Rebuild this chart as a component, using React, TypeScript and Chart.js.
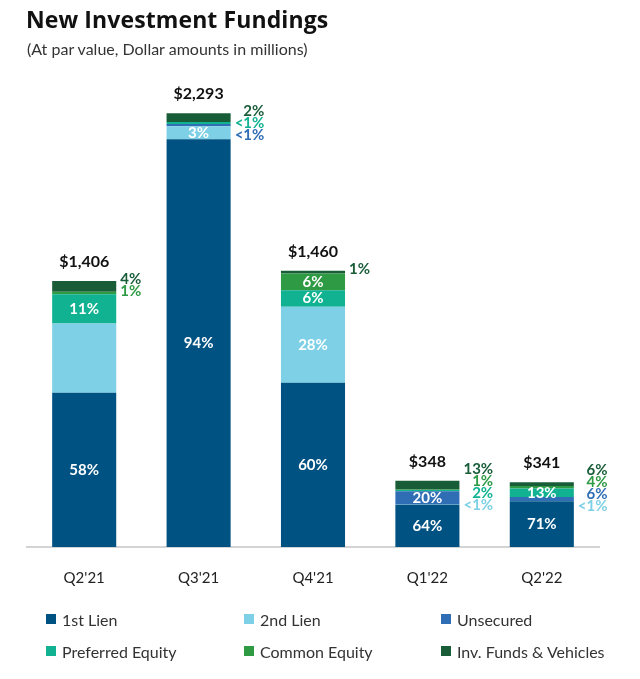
import React, { useEffect, useRef } from "react";
import { Chart, registerables } from "chart.js";

Chart.register(...registerables);

const FONT = "Lato, 'Open Sans', sans-serif";

const categories = ["Q2'21", "Q3'21", "Q4'21", "Q1'22", "Q2'22"];
const totals = [1406, 2293, 1460, 348, 341];
const totalLabels = ["$1,406", "$2,293", "$1,460", "$348", "$341"];

const seriesNames = [
  "1st Lien",
  "2nd Lien",
  "Unsecured",
  "Preferred Equity",
  "Common Equity",
  "Inv. Funds & Vehicles",
];
const seriesColors = ["#005282", "#7ed0e6", "#2f6db5", "#10b291", "#2e9a44", "#185c38"];

// share of each quarter's total, in percent
const firstLienPct = [58, 94, 59.5, 64, 71];
const secondLienPct = [26, 3, 27.5, 0.5, 0.5];
const unsecuredPct = [0, 0.5, 0, 20, 6];
const preferredPct = [11, 0.5, 6, 2, 13];
const commonPct = [1, 0, 6, 1, 4];
const invFundsPct = [4, 2, 1, 13, 6];

// printed labels
const firstLienLabels = ["58%", "94%", "60%", "64%", "71%"];
const secondLienLabels = ["", "3%", "28%", "<1%", "<1%"];
const unsecuredLabels = ["", "<1%", "", "20%", "6%"];
const preferredLabels = ["11%", "<1%", "6%", "2%", "13%"];
const commonLabels = ["1%", "", "6%", "1%", "4%"];
const invFundsLabels = ["4%", "2%", "1%", "13%", "6%"];

// true where the label sits beside the bar instead of inside it
const firstLienOutside = [false, false, false, false, false];
const secondLienOutside = [false, false, false, true, true];
const unsecuredOutside = [false, true, false, false, true];
const preferredOutside = [false, true, false, true, false];
const commonOutside = [true, false, false, true, true];
const invFundsOutside = [true, true, true, true, true];

const seriesPct = [firstLienPct, secondLienPct, unsecuredPct, preferredPct, commonPct, invFundsPct];
const seriesLabels = [
  firstLienLabels,
  secondLienLabels,
  unsecuredLabels,
  preferredLabels,
  commonLabels,
  invFundsLabels,
];
const seriesOutside = [
  firstLienOutside,
  secondLienOutside,
  unsecuredOutside,
  preferredOutside,
  commonOutside,
  invFundsOutside,
];

const labelPlugin = {
  id: "segmentLabels",
  afterDatasetsDraw(chart: any) {
    const ctx = chart.ctx as CanvasRenderingContext2D;
    ctx.save();
    for (let i = 0; i < categories.length; i++) {
      const outside: { text: string; color: string }[] = [];
      let top = Infinity;
      let right = 0;
      let cx = 0;
      chart.data.datasets.forEach((_ds: any, d: number) => {
        const bar = chart.getDatasetMeta(d).data[i];
        const p = bar.getProps(["x", "y", "base", "width"], true);
        top = Math.min(top, p.y);
        right = p.x + p.width / 2;
        cx = p.x;
        const text = seriesLabels[d][i];
        if (!text) return;
        if (seriesOutside[d][i]) {
          outside.unshift({ text, color: seriesColors[d] });
        } else {
          ctx.font = `bold 15px ${FONT}`;
          ctx.fillStyle = "#ffffff";
          ctx.textAlign = "center";
          ctx.textBaseline = "middle";
          ctx.fillText(text, p.x, (p.y + p.base) / 2);
        }
      });
      ctx.font = `bold 16px ${FONT}`;
      ctx.fillStyle = "#111111";
      ctx.textAlign = "center";
      ctx.textBaseline = "middle";
      ctx.fillText(totalLabels[i], cx, top - 19);

      if (outside.length) {
        ctx.font = `bold 15px ${FONT}`;
        const maxW = Math.max(...outside.map((o) => ctx.measureText(o.text).width));
        const rx = right + 4 + maxW;
        const start = top - 2 - Math.max(0, outside.length - 3) * 10;
        ctx.textAlign = "right";
        ctx.textBaseline = "middle";
        outside.forEach((o, k) => {
          ctx.fillStyle = o.color;
          ctx.fillText(o.text, rx, start + k * 12);
        });
      }
    }
    ctx.restore();
  },
};

export default function App() {
  const canvasRef = useRef<HTMLCanvasElement | null>(null);

  useEffect(() => {
    document.body.style.margin = "0";
    const canvas = canvasRef.current;
    if (!canvas) return;
    const chart = new Chart(canvas, {
      type: "bar",
      data: {
        labels: categories,
        datasets: seriesNames.map((name, d) => ({
          label: name,
          data: totals.map((t, i) => (t * seriesPct[d][i]) / 100),
          backgroundColor: seriesColors[d],
          borderWidth: 0,
          barPercentage: 0.56,
          categoryPercentage: 1,
        })),
      },
      options: {
        responsive: false,
        maintainAspectRatio: false,
        animation: false,
        layout: { padding: { top: 93, left: 27, right: 41, bottom: 70 } },
        plugins: {
          legend: { display: false },
          tooltip: { enabled: false },
          title: { display: false },
        },
        scales: {
          x: {
            stacked: true,
            grid: { display: false, drawTicks: false, tickLength: 0 },
            border: { display: true, color: "#d4d4d4", width: 2 },
            ticks: {
              padding: 22,
              color: "#222222",
              font: { family: FONT, size: 15 },
            },
          },
          y: {
            stacked: true,
            display: false,
            min: 0,
            max: 2400,
          },
        },
      },
      plugins: [labelPlugin],
    });
    return () => chart.destroy();
  }, []);

  const legendCols = [46, 244, 441];
  const legendRows = [619, 651];

  return (
    <div style={{ position: "relative", width: 640, height: 679, background: "#fff", fontFamily: FONT }}>
      <canvas ref={canvasRef} width={640} height={679} style={{ position: "absolute", left: 0, top: 0 }} />
      <div
        style={{
          position: "absolute",
          left: 26,
          top: 4,
          fontFamily: "'Open Sans', Lato, sans-serif",
          fontSize: 23,
          lineHeight: "30px",
          fontWeight: 700,
          letterSpacing: 0.1,
          color: "#111",
          whiteSpace: "nowrap",
        }}
      >
        New Investment Fundings
      </div>
      <div
        style={{
          position: "absolute",
          left: 27,
          top: 39,
          fontSize: 16,
          lineHeight: "20px",
          color: "#333",
          whiteSpace: "nowrap",
        }}
      >
        (At par value, Dollar amounts in millions)
      </div>
      {seriesNames.map((name, d) => (
        <div
          key={name}
          style={{
            position: "absolute",
            left: legendCols[d % 3],
            top: legendRows[Math.floor(d / 3)] - 10,
            height: 20,
            display: "flex",
            alignItems: "center",
            fontSize: 16,
            color: "#333",
            whiteSpace: "nowrap",
          }}
        >
          <span
            style={{
              display: "inline-block",
              width: 10,
              height: 10,
              background: seriesColors[d],
              marginRight: 6,
            }}
          />
          {name}
        </div>
      ))}
    </div>
  );
}
